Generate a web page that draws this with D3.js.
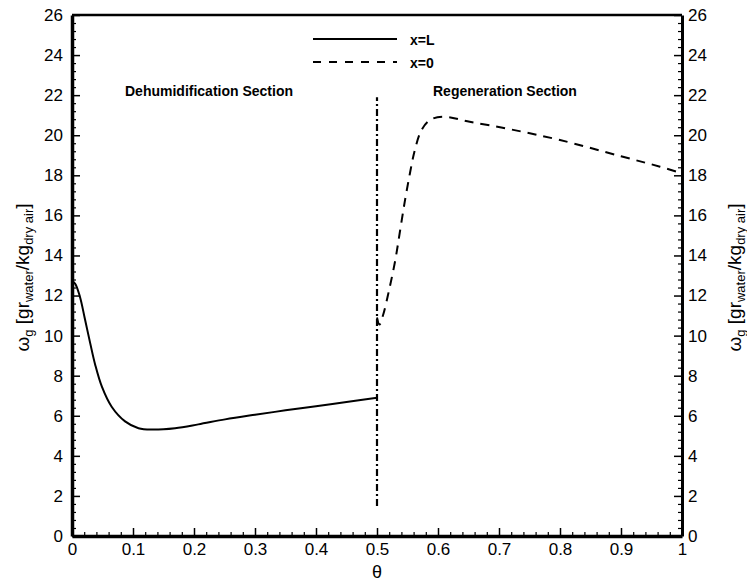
<!DOCTYPE html>
<html>
<head>
<meta charset="utf-8">
<script src="https://cdn.jsdelivr.net/npm/d3@7"></script>
<style>
  html, body { margin: 0; padding: 0; background: #fff; }
  svg { display: block; }
  text { font-family: "Liberation Sans", Arial, sans-serif; fill: #000; }
</style>
</head>
<body>
<script>
// ---- data ----
const thetaL = [0, 0.005, 0.013, 0.021, 0.030, 0.038, 0.049, 0.065, 0.087, 0.109, 0.131, 0.169, 0.207, 0.251, 0.3, 0.35, 0.4, 0.45, 0.5];
const omegaL = [12.7, 12.6, 11.94, 10.85, 9.6, 8.55, 7.45, 6.45, 5.72, 5.38, 5.31, 5.38, 5.57, 5.82, 6.05, 6.27, 6.48, 6.69, 6.9];
const theta0 = [0.5, 0.504, 0.51, 0.521, 0.530, 0.538, 0.546, 0.554, 0.562, 0.573, 0.587, 0.609, 0.652, 0.718, 0.8, 0.9, 0.964, 1.0];
const omega0 = [10.9, 10.55, 11.03, 12.44, 13.77, 15.27, 16.77, 18.1, 19.26, 20.26, 20.76, 20.92, 20.67, 20.3, 19.76, 18.95, 18.43, 18.1];
const thetaDiv = [0.5, 0.5];
const omegaDiv = [1.5, 21.9];
const xTicks = [0, 0.1, 0.2, 0.3, 0.4, 0.5, 0.6, 0.7, 0.8, 0.9, 1];
const xTickLabels = ["0", "0.1", "0.2", "0.3", "0.4", "0.5", "0.6", "0.7", "0.8", "0.9", "1"];
const yTicks = [0, 2, 4, 6, 8, 10, 12, 14, 16, 18, 20, 22, 24, 26];
const seriesNames = ["x=L", "x=0"];
const sectionLabels = ["Dehumidification Section", "Regeneration Section"];

// ---- layout ----
const W = 747, H = 581;
const m = { left: 72, right: 65, top: 15, bottom: 45 };
const svg = d3.select("body").append("svg").attr("width", W).attr("height", H);

const x = d3.scaleLinear().domain([0, 1]).range([m.left, W - m.right]);
const y = d3.scaleLinear().domain([0, 26]).range([H - m.bottom, m.top]);

const xMinor = d3.range(0, 1.0001, 0.02).map(v => +v.toFixed(2)).filter(v => !xTicks.includes(v));
const yMinor = d3.range(0, 26.0001, 0.4).map(v => +v.toFixed(1)).filter(v => !yTicks.includes(v));

const fs = 17;
function styleAxis(g, w) {
  g.select(".domain").attr("stroke", "#000").attr("stroke-width", w);
  g.selectAll(".tick line").attr("stroke", "#000").attr("stroke-width", 1.5);
  g.selectAll(".tick text").attr("font-family", "Liberation Sans, Arial, sans-serif").attr("font-size", fs).attr("fill", "#000");
}

// minor ticks
svg.append("g").attr("transform", `translate(0,${y(0)})`)
  .call(d3.axisBottom(x).tickValues(xMinor).tickSize(-4).tickSizeOuter(0).tickFormat(""))
  .call(g => { g.select(".domain").remove(); g.selectAll("line").attr("stroke", "#000").attr("stroke-width", 1.2); });
svg.append("g").attr("transform", `translate(${x(0)},0)`)
  .call(d3.axisLeft(y).tickValues(yMinor).tickSize(-4).tickSizeOuter(0).tickFormat(""))
  .call(g => { g.select(".domain").remove(); g.selectAll("line").attr("stroke", "#000").attr("stroke-width", 1.2); });
svg.append("g").attr("transform", `translate(${x(1)},0)`)
  .call(d3.axisRight(y).tickValues(yMinor).tickSize(-4).tickSizeOuter(0).tickFormat(""))
  .call(g => { g.select(".domain").remove(); g.selectAll("line").attr("stroke", "#000").attr("stroke-width", 1.2); });

// top frame line
svg.append("line").attr("x1", x(0)).attr("x2", x(1)).attr("y1", y(26)).attr("y2", y(26))
  .attr("stroke", "#000").attr("stroke-width", 2.5);

// major axes
svg.append("g").attr("transform", `translate(0,${y(0)})`)
  .call(d3.axisBottom(x).tickValues(xTicks).tickSize(-8).tickSizeOuter(0).tickPadding(7)
    .tickFormat((d, i) => xTickLabels[i]))
  .call(g => styleAxis(g, 3.5))
  .call(g => g.selectAll(".tick text").attr("dy", "0.71em"));
svg.append("g").attr("transform", `translate(${x(0)},0)`)
  .call(d3.axisLeft(y).tickValues(yTicks).tickSize(-8).tickSizeOuter(0).tickPadding(9))
  .call(g => styleAxis(g, 3.5));
svg.append("g").attr("transform", `translate(${x(1)},0)`)
  .call(d3.axisRight(y).tickValues(yTicks).tickSize(-8).tickSizeOuter(0).tickPadding(6))
  .call(g => styleAxis(g, 3));

// curves
const line = d3.line().x(d => x(d[0])).y(d => y(d[1])).curve(d3.curveCatmullRom.alpha(0.5));
const lineLin = d3.line().x(d => x(d[0])).y(d => y(d[1]));

svg.append("path").datum(thetaL.map((t, i) => [t, omegaL[i]]))
  .attr("d", line).attr("fill", "none").attr("stroke", "#000").attr("stroke-width", 2);
svg.append("path").datum(theta0.map((t, i) => [t, omega0[i]]))
  .attr("d", line).attr("fill", "none").attr("stroke", "#000").attr("stroke-width", 2)
  .attr("stroke-dasharray", "9,7");
svg.append("path").datum(thetaDiv.map((t, i) => [t, omegaDiv[i]]))
  .attr("d", lineLin).attr("fill", "none").attr("stroke", "#000").attr("stroke-width", 2.2)
  .attr("stroke-dasharray", "7,3,2,3");

// legend
const lg = svg.append("g");
[0, 1].forEach(i => {
  const ly = 39 + i * 23;
  lg.append("line").attr("x1", 313).attr("x2", 397).attr("y1", ly).attr("y2", ly)
    .attr("stroke", "#000").attr("stroke-width", 2)
    .attr("stroke-dasharray", i === 1 ? "8,8" : null);
  lg.append("text").attr("x", 410).attr("y", ly + 6).attr("font-size", 14).attr("font-weight", "bold")
    .text(seriesNames[i]);
});

// section labels
svg.append("text").attr("x", 125).attr("y", 96).attr("font-size", 14).attr("font-weight", "bold").text(sectionLabels[0]);
svg.append("text").attr("x", 433).attr("y", 96).attr("font-size", 14).attr("font-weight", "bold").text(sectionLabels[1]);

// x label
svg.append("text").attr("x", x(0.5)).attr("y", 578).attr("text-anchor", "middle")
  .attr("font-family", "Liberation Serif, Times New Roman, serif").attr("font-size", 18).text("θ");

// y labels
function yLabel(xpos) {
  const t = svg.append("text").attr("transform", `translate(${xpos},${(y(0) + y(26)) / 2 + 2}) rotate(-90)`)
    .attr("text-anchor", "middle").attr("font-size", 19);
  t.append("tspan").text("ω");
  t.append("tspan").attr("font-size", 13).attr("dy", 4).text("g");
  t.append("tspan").attr("dy", -4).text(" [gr");
  t.append("tspan").attr("font-size", 13).attr("dy", 4).text("water");
  t.append("tspan").attr("dy", -4).text("/kg");
  t.append("tspan").attr("font-size", 13).attr("dy", 4).text("dry air");
  t.append("tspan").attr("dy", -4).text("]");
}
yLabel(29);
yLabel(741);
</script>
</body>
</html>
